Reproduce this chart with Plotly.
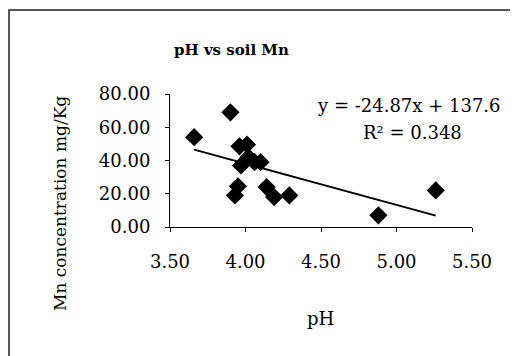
import plotly.graph_objects as go

ph = [3.66, 3.90, 3.93, 3.95, 3.96, 4.01, 3.97, 4.02, 4.06, 4.10, 4.14, 4.19, 4.29, 4.88, 5.26]
mn = [54.0, 69.0, 19.0, 24.5, 48.5, 49.5, 37.0, 42.0, 39.0, 39.0, 24.0, 18.0, 19.0, 7.0, 22.0]
slope = -24.87
intercept = 137.6
r2 = 0.348
title_text = "pH vs soil Mn"
x_title = "pH"
y_title = "Mn concentration mg/Kg"

# page body has an 8px default margin; figure is laid out in page pixels minus that offset
OFF = 8
W, H = 518 - OFF, 356 - OFF
AX_L, AX_R, AX_T, AX_B = 170, 472, 94, 227  # page pixel positions of the plot area
L, T = AX_L - OFF, AX_T - OFF
R, B = W - (AX_R - OFF), H - (AX_B - OFF)
pw, ph_ = AX_R - AX_L, AX_B - AX_T

def px(x):
    return (x - AX_L) / pw

def py(y):
    return (AX_B - y) / ph_

xmin, xmax = min(ph), max(ph)
fig = go.Figure()
fig.add_trace(go.Scatter(x=ph, y=mn, mode="markers",
                         marker=dict(symbol="diamond", size=14, color="black"),
                         showlegend=False, cliponaxis=False))
fig.add_trace(go.Scatter(x=[xmin, xmax], y=[slope * xmin + intercept, slope * xmax + intercept],
                         mode="lines", line=dict(color="black", width=1.8),
                         showlegend=False))

font = "DejaVu Serif"
fig.update_layout(
    width=W, height=H, margin=dict(l=L, r=R, t=T, b=B, autoexpand=False),
    paper_bgcolor="white", plot_bgcolor="white",
    font=dict(family=font, size=18, color="black"),
    xaxis=dict(range=[3.5, 5.5], dtick=0.5, tick0=3.5, tickformat=".2f", automargin=False,
               showgrid=False, zeroline=False, showline=True, linecolor="black", linewidth=1,
               ticks="outside", ticklen=4, tickcolor="black", ticklabelstandoff=14,
               tickfont=dict(family=font, size=18)),
    yaxis=dict(range=[0, 80], dtick=20, tickformat=".2f", automargin=False,
               showgrid=False, zeroline=False, showline=True, linecolor="black", linewidth=1,
               ticks="outside", ticklen=4, tickcolor="black", ticklabelstandoff=11,
               tickfont=dict(family=font, size=18)),
    annotations=[
        dict(text="<b>" + title_text + "</b>", xref="paper", yref="paper",
             x=px(231), y=py(50), showarrow=False, font=dict(family=font, size=15),
             xanchor="center", yanchor="middle"),
        dict(text=y_title, xref="paper", yref="paper", x=px(60), y=py(204),
             textangle=-90, showarrow=False, font=dict(family=font, size=17),
             xanchor="center", yanchor="middle"),
        dict(text=x_title, xref="paper", yref="paper", x=px(320), y=py(318),
             showarrow=False, font=dict(family=font, size=18),
             xanchor="center", yanchor="middle"),
        dict(text="y = %.2fx + %.1f" % (slope, intercept), xref="paper", yref="paper",
             x=px(409), y=py(105), showarrow=False, font=dict(family=font, size=18),
             xanchor="center", yanchor="middle"),
        dict(text="R² = %.3f" % r2, xref="paper", yref="paper",
             x=px(412), y=py(132), showarrow=False, font=dict(family=font, size=18),
             xanchor="center", yanchor="middle"),
    ],
    shapes=[dict(type="rect", xref="paper", yref="paper",
                 x0=px(9), x1=px(560), y0=py(400), y1=py(10),
                 line=dict(color="#222", width=1.5))],
)

fig.write_html("out.html")
